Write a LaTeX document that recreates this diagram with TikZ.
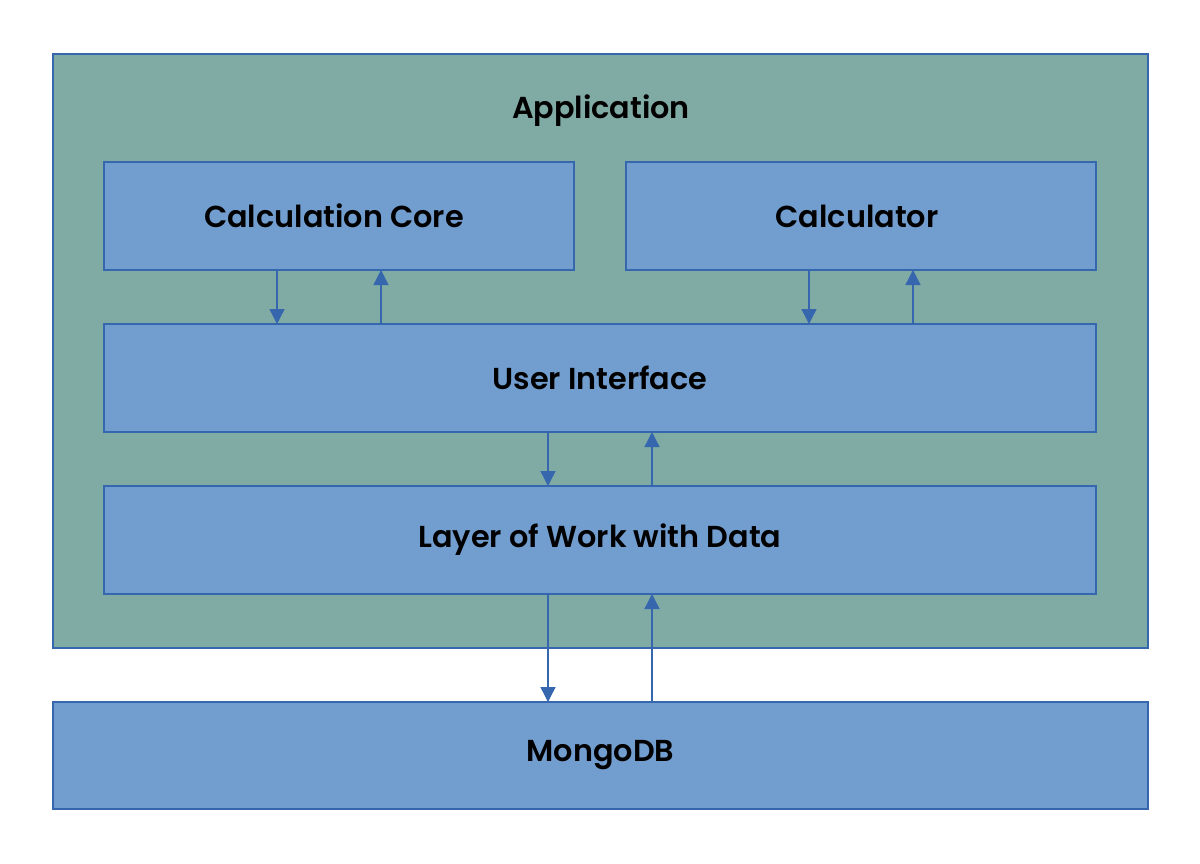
\documentclass[tikz,border=0pt]{standalone}
\usepackage{fontspec}
\newfontfamily\labelfont{Poppins SemiBold}
\usetikzlibrary{arrows.meta}
\definecolor{appgreen}{HTML}{80AAA4}
\definecolor{boxblue}{HTML}{729DCF}
\definecolor{edgeblue}{HTML}{3566AE}
\begin{document}
\begin{tikzpicture}[x=1pt,y=-1pt,
  box/.style={draw=edgeblue, line width=1.4pt, fill=boxblue, inner sep=0pt, outer sep=0pt},
  appbox/.style={draw=edgeblue, line width=1.4pt, fill=appgreen, inner sep=0pt, outer sep=0pt},
  lbl/.style={font=\fontsize{30.3}{36}\labelfont, text=black},
  arr/.style={draw=edgeblue, line width=1.4pt, -{Triangle[width=15pt,length=15pt]}}]
\useasboundingbox (0,0) rectangle (1200,864);
\fill[white] (0,0) rectangle (1200,864);
% outer application box
\node[appbox, minimum width=1095pt, minimum height=594pt, anchor=north west] (app) at (53,54) {};
\node[lbl] (apptitle) at (601,111) {Application};
\node[box, minimum width=470pt, minimum height=108pt, anchor=north west] (cc) at (104,162) {};
\node[lbl] at ([xshift=-5pt]cc.center) {Calculation Core};
\node[box, minimum width=470pt, minimum height=108pt, anchor=north west] (calc) at (626,162) {};
\node[lbl] at ([xshift=-4pt]calc.center) {Calculator};
\node[box, minimum width=992pt, minimum height=108pt, anchor=north west] (ui) at (104,324) {};
\node[lbl] at (ui.center) {User Interface};
\node[box, minimum width=992pt, minimum height=108pt, anchor=north west] (data) at (104,486) {};
\node[lbl] at (data.center) {Layer of Work with Data};
\node[box, minimum width=1095pt, minimum height=107pt, anchor=north west] (db) at (53,702) {};
\node[lbl] at (db.center) {MongoDB};
% arrow x positions
\coordinate (xa) at (277,0);
\coordinate (xb) at (381,0);
\coordinate (xc) at (809,0);
\coordinate (xd) at (913,0);
\coordinate (xe) at (548,0);
\coordinate (xf) at (652,0);
\draw[arr] (cc.south -| xa) -- (ui.north -| xa);
\draw[arr] (ui.north -| xb) -- (cc.south -| xb);
\draw[arr] (calc.south -| xc) -- (ui.north -| xc);
\draw[arr] (ui.north -| xd) -- (calc.south -| xd);
\draw[arr] (ui.south -| xe) -- (data.north -| xe);
\draw[arr] (data.north -| xf) -- (ui.south -| xf);
\draw[arr] (data.south -| xe) -- (db.north -| xe);
\draw[arr] (db.north -| xf) -- (data.south -| xf);
\end{tikzpicture}
\end{document}
